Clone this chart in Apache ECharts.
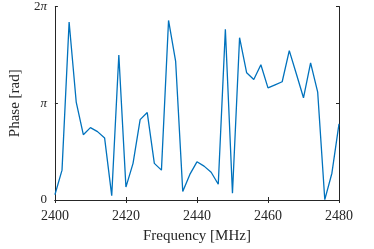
<!DOCTYPE html>
<html><head><meta charset="utf-8">
<script src="https://cdn.jsdelivr.net/npm/echarts@6/dist/echarts.min.js"></script>
<style>html,body{margin:0;padding:0;background:#fff}#c{width:374px;height:249px}</style>
</head><body><div id="c"></div>
<script>
const frequencies = [2400,2402,2404,2406,2408,2410,2412,2414,2416,2418,2420,2422,2424,2426,2428,2430,2432,2434,2436,2438,2440,2442,2444,2446,2448,2450,2452,2454,2456,2458,2460,2462,2464,2466,2468,2470,2472,2474,2476,2478,2480];
const phase = [0.17,0.97,5.78,3.18,2.12,2.35,2.22,2.01,0.14,4.71,0.42,1.19,2.61,2.84,1.19,0.97,5.83,4.50,0.28,0.83,1.24,1.10,0.90,0.51,5.54,0.22,5.27,4.13,3.91,4.39,3.64,3.74,3.84,4.85,4.09,3.32,4.45,3.50,0.01,0.87,2.47];
const xTicks = [2400,2420,2440,2460,2480];
const yTickLabels = ['0','π','2π'];

const chart = echarts.init(document.getElementById('c'));
const ink = '#262626';
const font = 'Liberation Serif';
function yFmt(v){
  const k = Math.round(v/Math.PI);
  const s = yTickLabels[k];
  if (s === '0') return '{n|0}';
  if (s === 'π') return '{p|π}';
  return '{n|2}{p|π}';
}
const rich = {n:{fontFamily:font,fontSize:13,color:ink},p:{fontFamily:font,fontSize:13,fontStyle:'italic',color:ink}};
chart.setOption({
  animation:false,
  grid:{left:48,right:35,top:6,bottom:47},
  xAxis:[{
    type:'value',min:2400,max:2480,interval:20,
    name:'Frequency [MHz]',nameLocation:'middle',nameGap:29,
    nameTextStyle:{fontFamily:font,fontSize:15,color:ink},
    axisLine:{show:true,lineStyle:{color:ink,width:1}},
    axisTick:{show:true,inside:true,length:3,lineStyle:{color:ink}},
    axisLabel:{fontFamily:font,fontSize:14,color:ink,margin:9,formatter:v=>xTicks.includes(v)?String(v):''},
    splitLine:{show:false}
  },{
    type:'value',min:2400,max:2480,interval:20,position:'top',
    axisLine:{show:true,lineStyle:{color:ink,width:1}},
    axisTick:{show:true,inside:true,length:3,lineStyle:{color:ink}},
    axisLabel:{show:false},splitLine:{show:false}
  }],
  yAxis:[{
    type:'value',min:0,max:2*Math.PI,interval:Math.PI,
    name:'Phase [rad]',nameLocation:'middle',nameGap:29,
    nameTextStyle:{fontFamily:font,fontSize:15,color:ink},
    axisLine:{show:true,lineStyle:{color:ink,width:1}},
    axisTick:{show:true,inside:true,length:3,lineStyle:{color:ink}},
    axisLabel:{margin:8,formatter:yFmt,rich:rich},
    splitLine:{show:false}
  },{
    type:'value',min:0,max:2*Math.PI,interval:Math.PI,position:'right',
    axisLine:{show:true,lineStyle:{color:ink,width:1}},
    axisTick:{show:true,inside:true,length:3,lineStyle:{color:ink}},
    axisLabel:{show:false},splitLine:{show:false}
  }],
  series:[{
    type:'line',
    data:frequencies.map((f,i)=>[f,phase[i]]),
    showSymbol:false,
    lineStyle:{color:'#0072BD',width:1.3},
    itemStyle:{color:'#0072BD'}
  }]
});
</script></body></html>
